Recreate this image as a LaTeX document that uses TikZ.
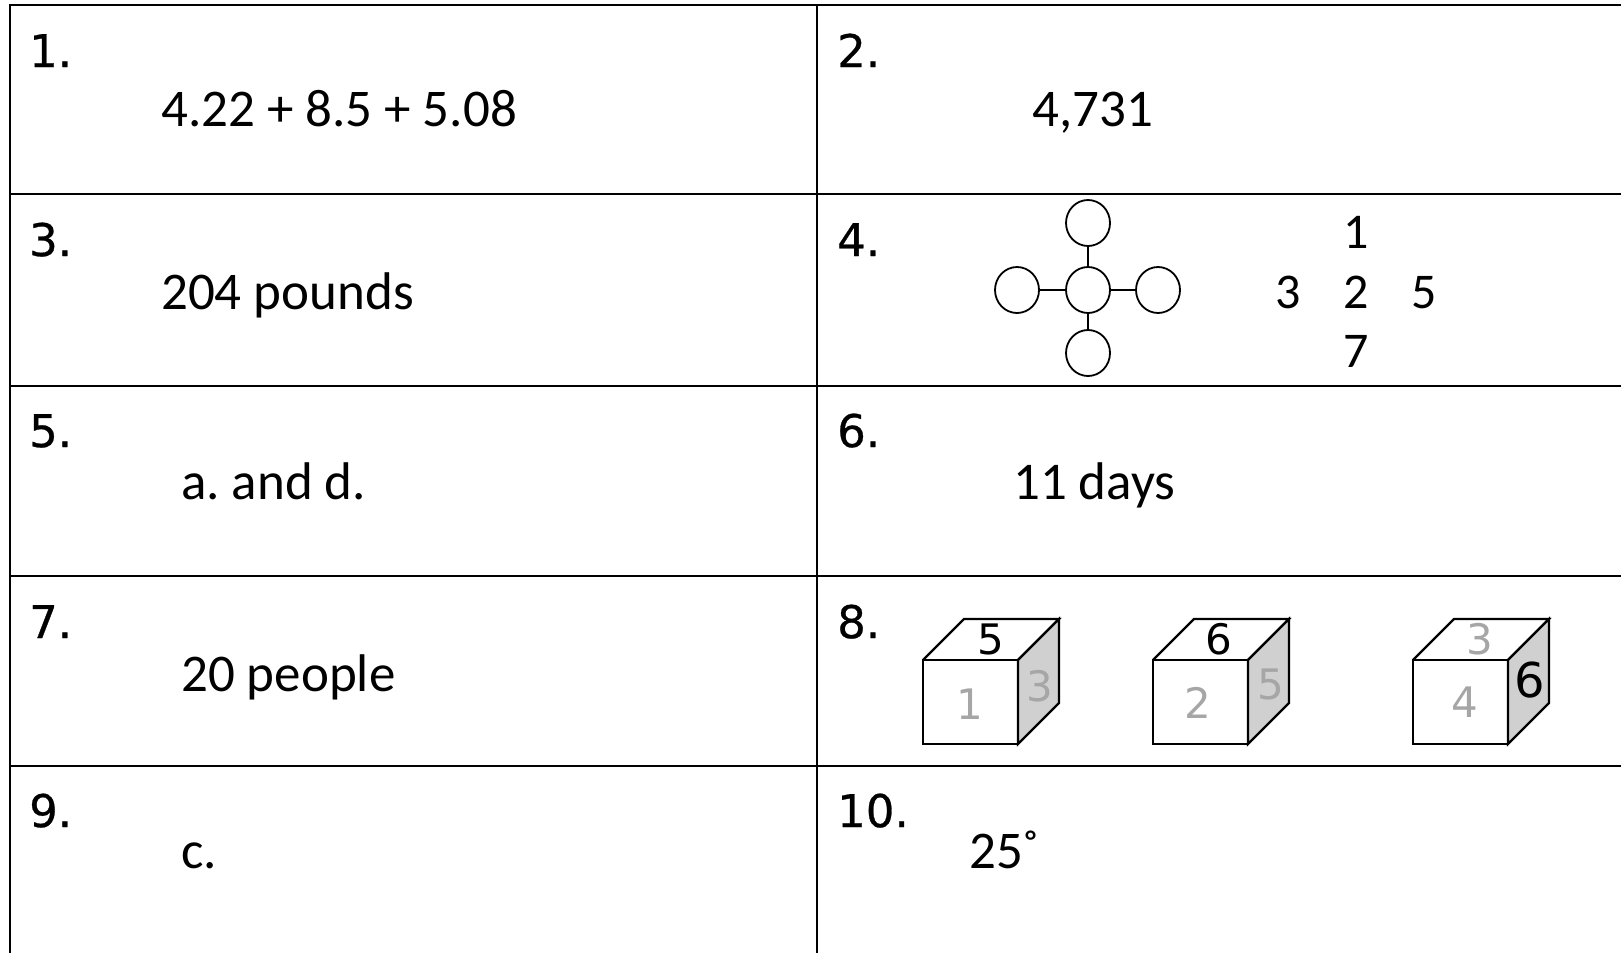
\documentclass[tikz,border=0pt]{standalone}
\usepackage{fontspec}
\setmainfont{Carlito}
\newfontfamily\numfont[FakeBold=0.6]{DejaVu Sans}
\newfontfamily\facefont{DejaVu Sans}
\usetikzlibrary{shapes.geometric}
\definecolor{facegray}{HTML}{A6A6A6}
\definecolor{sidefill}{HTML}{D0D0D0}
\newcommand{\mydie}[1]{%
  \draw[cubeline] (#1,660) rectangle ++(95,84);
  \draw[cubeline] (#1,660) -- ++(41,-41) -- ++(95,0) -- ++(-41,41);
  \draw[cubeline,fill=sidefill] (#1+95,660) -- ++(41,-41) -- ++(0,84) -- ++(-41,41) -- cycle;
}
\frenchspacing
\begin{document}
\begin{tikzpicture}[x=1pt,y=-1pt,
  gridline/.style={line width=2pt},
  cubeline/.style={line width=2.2pt,line join=miter},
  qnum/.style={font=\numfont\fontsize{45}{50}\selectfont,anchor=base west,inner sep=0},
  ans/.style={font=\fontsize{53}{60}\selectfont,anchor=base west,inner sep=0},
  gridnum/.style={font=\fontsize{50}{56}\selectfont,anchor=base,inner sep=0},
  dot/.style={draw,ellipse,line width=1.8pt,minimum width=44,minimum height=46,inner sep=0},
  facetext/.style={font=\facefont\fontsize{42}{46}\selectfont,inner sep=0},
  facegrey/.style={facetext,text=facegray}]
\useasboundingbox (0,0) rectangle (1621,953);
% table
\draw[gridline] (10,5) -- (1621,5);
\foreach \yy in {194,386,576,766} \draw[gridline] (10,\yy) -- (1621,\yy);
\draw[gridline] (10,4) -- (10,953);
\draw[gridline] (817,4) -- (817,953);
% question numbers
\node[qnum] (q1) at (29,67) {1.};
\node[qnum] (q2) at (837,67) {2.};
\node[qnum] (q3) at (29,256) {3.};
\node[qnum] (q4) at (837,256) {4.};
\node[qnum] (q5) at (29,447) {5.};
\node[qnum] (q6) at (837,447) {6.};
\node[qnum] (q7) at (29,638) {7.};
\node[qnum] (q8) at (837,638) {8.};
\node[qnum] (q9) at (29,827) {9.};
\node[qnum] (q10) at (837,827) {10.};
% answers
\node[ans] (a1) at (161,126) {4.22 + 8.5 + 5.08};
\node[ans] (a2) at (1032,126) {4,731};
\node[ans] (a3) at (161,309) {204 pounds};
\node[ans] (a5) at (181,499) {a. and d.};
\node[ans] (a6) at (1013,499) {11 days};
\node[ans] (a7) at (181,691) {20 people};
\node[ans] (a9) at (181,868) {c.};
\node[ans] (a10) at (969,868) {25˚};
% cross of circles
\node[dot] (ct) at (1088,223) {};
\node[dot] (cc) at (1088,290) {};
\node[dot] (cl) at (1017,290) {};
\node[dot] (cr) at (1158,290) {};
\node[dot] (cb) at (1088,353) {};
\draw[line width=1.8pt] (cc) -- (ct);
\draw[line width=1.8pt] (cc) -- (cl);
\draw[line width=1.8pt] (cc) -- (cr);
\draw[line width=1.8pt] (cc) -- (cb);
% number grid
\node[gridnum] (g1) at (1356,248) {1};
\node[gridnum] (g3) at (1288,308) {3};
\node[gridnum] (g2) at (1356,308) {2};
\node[gridnum] (g5) at (1424,308) {5};
\node[gridnum] (g7) at (1356,367) {7};
% cubes
\mydie{923}
\mydie{1153}
\mydie{1413}
\node[facetext] (d1t) at (991,639) {5};
\node[facegrey] (d1r) at (1040,686) {3};
\node[facegrey] (d1f) at (970,704) {1};
\node[facetext] (d2t) at (1219,639) {6};
\node[facegrey] (d2r) at (1271,684) {5};
\node[facegrey] (d2f) at (1198,703) {2};
\node[facegrey] (d3t) at (1480,639) {3};
\node[facetext,font=\facefont\fontsize{48}{50}\selectfont] (d3r) at (1530,680) {6};
\node[facegrey] (d3f) at (1465,702) {4};
\end{tikzpicture}
\end{document}
